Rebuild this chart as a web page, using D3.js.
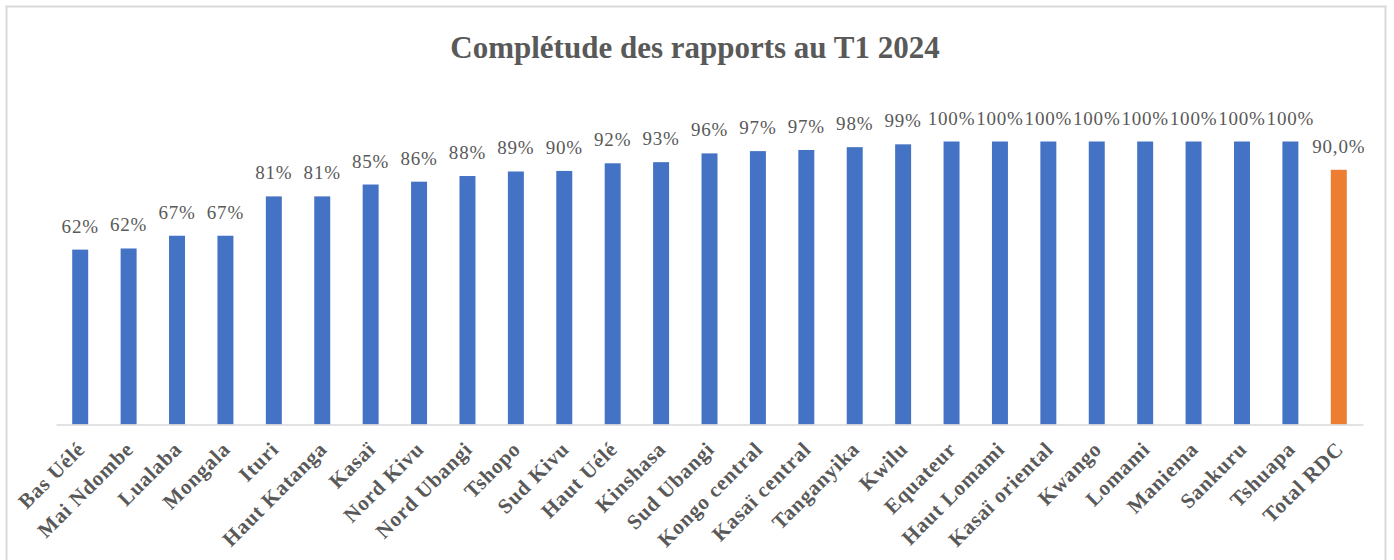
<!DOCTYPE html>
<html>
<head>
<meta charset="utf-8">
<script src="https://cdn.jsdelivr.net/npm/d3@7"></script>
<style>
  body { margin: 0; background: #fff; }
  svg { display: block; }
</style>
</head>
<body>
<svg id="drawing_region"></svg>
<script>
const categories = ["Bas Uélé", "Mai Ndombe", "Lualaba", "Mongala", "Ituri", "Haut Katanga", "Kasaï",
    "Nord Kivu", "Nord Ubangi", "Tshopo", "Sud Kivu", "Haut Uélé", "Kinshasa", "Sud Ubangi",
    "Kongo central", "Kasaï central", "Tanganyika", "Kwilu", "Equateur", "Haut Lomami",
    "Kasaï oriental", "Kwango", "Lomami", "Maniema", "Sankuru", "Tshuapa", "Total RDC"];
const values = [61.8, 62.2, 66.7, 66.7, 80.6, 80.6, 84.8, 85.8, 87.8, 89.4, 89.6, 92.3, 92.7, 95.8,
    96.6, 97.0, 98.0, 99.0, 100, 100, 100, 100, 100, 100, 100, 100, 90.0];
const totalName = "Total RDC";

const W = 1394, H = 560;
const svg = d3.select('#drawing_region')
    .attr('width', W)
    .attr('height', H);

// chart frame
svg.append('rect')
    .attr('x', 6.5).attr('y', 6.5)
    .attr('width', 1379).attr('height', 560)
    .attr('fill', '#fff')
    .attr('stroke', '#d9d9d9')
    .attr('stroke-width', 2);

svg.append('text')
    .attr('x', 695).attr('y', 58)
    .attr('text-anchor', 'middle')
    .attr('font-family', '"Liberation Serif", serif')
    .attr('font-weight', 'bold')
    .attr('font-size', 31)
    .attr('fill', '#595959')
    .text("Complétude des rapports au T1 2024");

const left = 56, right = 1363, base = 424.5, top100 = 141.5;

const xscale = d3.scaleBand()
    .domain(categories)
    .range([left, right])
    .paddingInner(0.67)
    .paddingOuter(0.335);

const yscale = d3.scaleLinear()
    .domain([0, 100])
    .range([base, top100]);

const chart = svg.append('g');

chart.selectAll('rect.bar')
    .data(categories)
    .enter()
    .append('rect')
    .attr('class', 'bar')
    .attr('x', d => xscale(d))
    .attr('y', (d, i) => yscale(values[i]))
    .attr('width', xscale.bandwidth())
    .attr('height', (d, i) => base - yscale(values[i]))
    .attr('fill', d => d === totalName ? '#ed7d31' : '#4472c4');

const fmtInt = d3.format('.0f');
chart.selectAll('text.lbl')
    .data(categories)
    .enter()
    .append('text')
    .attr('class', 'lbl')
    .attr('x', d => xscale(d) + xscale.bandwidth() / 2)
    .attr('y', (d, i) => yscale(values[i]) - 17)
    .attr('text-anchor', 'middle')
    .attr('font-family', '"Liberation Serif", serif')
    .attr('font-size', 19)
    .attr('letter-spacing', 0.8)
    .attr('fill', '#595959')
    .text((d, i) => d === totalName
        ? values[i].toFixed(1).replace('.', ',') + '%'
        : fmtInt(values[i]) + '%');

const xaxis = d3.axisBottom(xscale).tickSize(0).tickSizeOuter(0);
const xaxis_group = chart.append('g')
    .attr('transform', `translate(0, ${base})`)
    .call(xaxis);

xaxis_group.select('.domain')
    .attr('stroke', '#d9d9d9')
    .attr('stroke-width', 1.5);

xaxis_group.selectAll('.tick text')
    .attr('font-family', '"Liberation Serif", serif')
    .attr('font-weight', 'bold')
    .attr('font-size', 21)
    .attr('letter-spacing', 0.8)
    .attr('fill', '#595959')
    .attr('text-anchor', 'end')
    .attr('dy', null)
    .attr('y', 0)
    .attr('transform', 'translate(6, 26) rotate(-45)');
</script>
</body>
</html>
